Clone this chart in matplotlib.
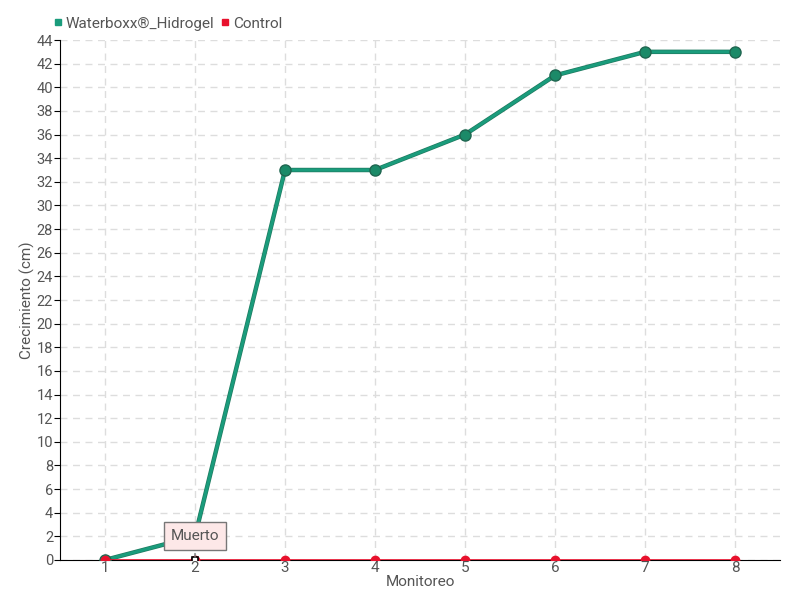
import matplotlib
matplotlib.use('Agg')
import matplotlib.pyplot as plt
from matplotlib.lines import Line2D
import matplotlib.patheffects as pe

monitoreo = [1, 2, 3, 4, 5, 6, 7, 8]
waterboxx = [0, 2, 33, 33, 36, 41, 43, 43]
control = [0, 0, 0, 0, 0, 0, 0, 0]
y_ticks = list(range(0, 45, 2))

plt.rcParams['font.family'] = ['Roboto', 'DejaVu Sans']
text_color = '#555555'
green = '#1a9c7c'
red = '#e8112d'

fig = plt.figure(figsize=(8, 6), dpi=100)
ax = fig.add_axes([0.075, 0.0667, 0.9, 0.8666])

ax.plot(monitoreo, waterboxx, color=green, lw=2.2, zorder=3,
        path_effects=[pe.Stroke(linewidth=3.2, foreground='#1f7a60'), pe.Normal()])
ax.plot(monitoreo, waterboxx, linestyle='none', marker='o', ms=8,
        markerfacecolor='#1b8a68', markeredgecolor='#1f6650', markeredgewidth=1, zorder=3)
ax.plot(monitoreo, control, color=red, lw=1.2, marker='o', ms=6,
        markerfacecolor=red, markeredgecolor=red, zorder=4)
# highlighted point
ax.plot([monitoreo[1]], [control[1]], marker='s', ms=5, markerfacecolor='white',
        markeredgecolor='black', markeredgewidth=1.2, linestyle='none', zorder=6)

ax.annotate('Muerto', xy=(monitoreo[1], control[1]), xytext=(0, 17), textcoords='offset points',
            ha='center', va='center', fontsize=11, color=text_color,
            bbox=dict(boxstyle='square,pad=0.45', fc='#fde8e8', ec='#777777', lw=1),
            arrowprops=dict(arrowstyle='-', color='#777777', lw=1), zorder=7)

ax.set_xlim(0.5, 8.5)
ax.set_ylim(0, 44)
ax.set_xticks(monitoreo)
ax.set_yticks(y_ticks)
ax.grid(True, color='#dddddd', linestyle=(0, (5, 4)), lw=1)
ax.set_axisbelow(True)
for s in ['top', 'right']:
    ax.spines[s].set_visible(False)
ax.spines['left'].set_color('black')
ax.spines['bottom'].set_color('black')
ax.tick_params(axis='y', length=4, colors=text_color, labelsize=10.5, pad=1)
ax.tick_params(axis='y', color='black')
ax.tick_params(axis='x', length=0, colors=text_color, labelsize=11, pad=1)
ax.set_xlabel('Monitoreo', color=text_color, fontsize=11, labelpad=0)
ax.set_ylabel('Crecimiento (cm)', color=text_color, fontsize=11)
ax.yaxis.set_label_coords(-0.035, 0.5)

handles = [Line2D([], [], marker='s', color=green, linestyle='none', ms=5),
           Line2D([], [], marker='s', color=red, linestyle='none', ms=5)]
fig.legend(handles, ['Waterboxx®_Hidrogel', 'Control'], loc='upper left',
           bbox_to_anchor=(0.05, 0.995), ncol=2, frameon=False, fontsize=11,
           handlelength=0.5, handletextpad=0.3, columnspacing=0.4, labelcolor=text_color)

fig.savefig('out.png', dpi=100)
